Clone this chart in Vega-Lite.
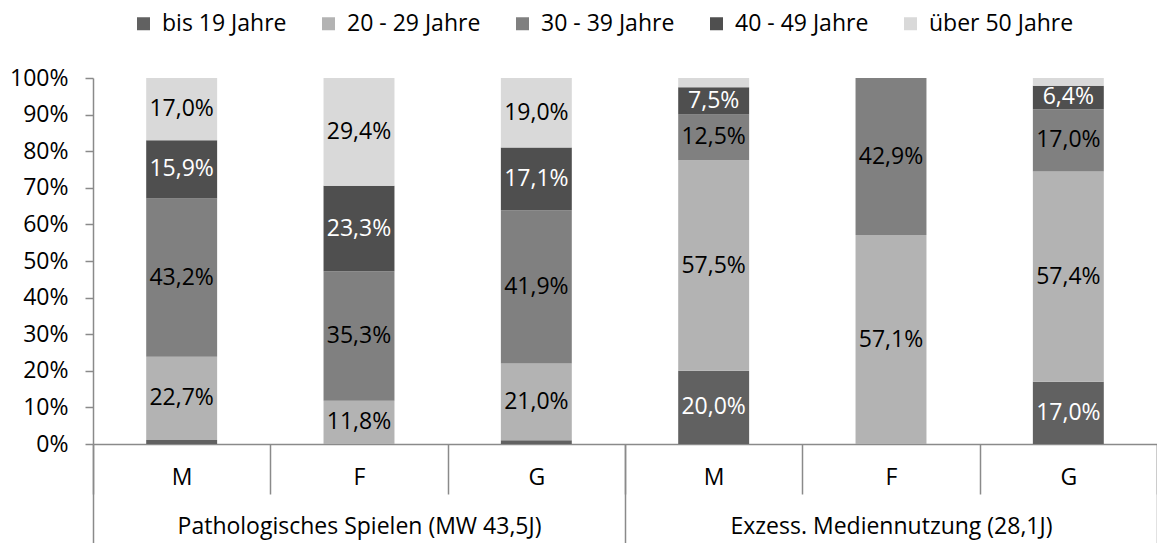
{
  "$schema": "https://vega.github.io/schema/vega-lite/v6.json",
  "width": 1064,
  "height": 366,
  "autosize": {"type": "none"},
  "padding": {"left": 93, "top": 78, "right": 0, "bottom": 99},
  "config": {
    "view": {"stroke": null},
    "font": "Open Sans",
    "locale": {"number": {"decimal": ",", "thousands": ".", "grouping": [3], "currency": ["", " €"]}},
    "axis": {"grid": false, "domainColor": "#8a8a8a", "tickColor": "#8a8a8a", "labelColor": "#000000", "labelFont": "Open Sans", "labelOverlap": false},
    "legend": {
      "orient": "none", "legendX": 39, "legendY": -66, "direction": "horizontal",
      "symbolType": "square", "symbolSize": 169, "symbolStrokeWidth": 0,
      "labelFontSize": 23, "labelColor": "#000000", "labelFont": "Open Sans",
      "columnPadding": 30, "labelOffset": 7
    }
  },
  "layer": [
    {
      "data": {"values": [
        {"id": "P-M", "age": "bis 19 Jahre", "k": 0, "v": 0.011},
        {"id": "P-M", "age": "20 - 29 Jahre", "k": 1, "v": 0.227},
        {"id": "P-M", "age": "30 - 39 Jahre", "k": 2, "v": 0.432},
        {"id": "P-M", "age": "40 - 49 Jahre", "k": 3, "v": 0.159},
        {"id": "P-M", "age": "über 50 Jahre", "k": 4, "v": 0.170},
        {"id": "P-F", "age": "20 - 29 Jahre", "k": 1, "v": 0.118},
        {"id": "P-F", "age": "30 - 39 Jahre", "k": 2, "v": 0.353},
        {"id": "P-F", "age": "40 - 49 Jahre", "k": 3, "v": 0.233},
        {"id": "P-F", "age": "über 50 Jahre", "k": 4, "v": 0.294},
        {"id": "P-G", "age": "bis 19 Jahre", "k": 0, "v": 0.010},
        {"id": "P-G", "age": "20 - 29 Jahre", "k": 1, "v": 0.210},
        {"id": "P-G", "age": "30 - 39 Jahre", "k": 2, "v": 0.419},
        {"id": "P-G", "age": "40 - 49 Jahre", "k": 3, "v": 0.171},
        {"id": "P-G", "age": "über 50 Jahre", "k": 4, "v": 0.190},
        {"id": "E-M", "age": "bis 19 Jahre", "k": 0, "v": 0.200},
        {"id": "E-M", "age": "20 - 29 Jahre", "k": 1, "v": 0.575},
        {"id": "E-M", "age": "30 - 39 Jahre", "k": 2, "v": 0.125},
        {"id": "E-M", "age": "40 - 49 Jahre", "k": 3, "v": 0.075},
        {"id": "E-M", "age": "über 50 Jahre", "k": 4, "v": 0.025},
        {"id": "E-F", "age": "20 - 29 Jahre", "k": 1, "v": 0.571},
        {"id": "E-F", "age": "30 - 39 Jahre", "k": 2, "v": 0.429},
        {"id": "E-G", "age": "bis 19 Jahre", "k": 0, "v": 0.170},
        {"id": "E-G", "age": "20 - 29 Jahre", "k": 1, "v": 0.574},
        {"id": "E-G", "age": "30 - 39 Jahre", "k": 2, "v": 0.170},
        {"id": "E-G", "age": "40 - 49 Jahre", "k": 3, "v": 0.064},
        {"id": "E-G", "age": "über 50 Jahre", "k": 4, "v": 0.021}
      ]},
      "transform": [
        {"stack": "v", "groupby": ["id"], "sort": [{"field": "k", "order": "ascending"}], "offset": "normalize", "as": ["y0", "y1"]},
        {"calculate": "(datum.y0 + datum.y1) / 2", "as": "ym"}
      ],
      "layer": [
        {
          "mark": {"type": "bar", "width": {"band": 0.4}},
          "encoding": {
            "x": {
              "field": "id", "type": "nominal",
              "sort": ["P-M", "P-F", "P-G", "E-M", "E-F", "E-G"],
              "scale": {"paddingInner": 0, "paddingOuter": 0},
              "axis": {
                "title": null, "orient": "bottom", "labelExpr": "substring(datum.label, 2)",
                "tickBand": "extent", "tickSize": 50, "labelPadding": -17, "labelBaseline": "middle",
                "labelAngle": 0, "labelFontSize": 23, "domainWidth": 1.5, "tickWidth": 1.5
              }
            },
            "y": {
              "field": "y0", "type": "quantitative", "scale": {"domain": [0, 1], "nice": false},
              "axis": {"title": null, "format": ".0%", "values": [0, 0.1, 0.2, 0.3, 0.4, 0.5, 0.6, 0.7, 0.8, 0.9, 1],
                "labelOverlap": false,
                "tickSize": 8, "labelPadding": 17, "labelFontSize": 23, "domainWidth": 1.5, "tickWidth": 1.5}
            },
            "y2": {"field": "y1"},
            "color": {
              "field": "age", "type": "nominal", "title": null,
              "scale": {
                "domain": ["bis 19 Jahre", "20 - 29 Jahre", "30 - 39 Jahre", "40 - 49 Jahre", "über 50 Jahre"],
                "range": ["#616161", "#b3b3b3", "#808080", "#4f4f4f", "#d9d9d9"]
              }
            }
          }
        },
        {
          "transform": [{"filter": "datum.v >= 0.05"}],
          "mark": {"type": "text", "fontSize": 23, "font": "Open Sans"},
          "encoding": {
            "x": {"field": "id", "type": "nominal", "sort": ["P-M", "P-F", "P-G", "E-M", "E-F", "E-G"]},
            "y": {"field": "ym", "type": "quantitative",
              "axis": {"title": null, "format": ".0%", "values": [0, 0.1, 0.2, 0.3, 0.4, 0.5, 0.6, 0.7, 0.8, 0.9, 1],
                "labelOverlap": false,
                "tickSize": 8, "labelPadding": 17, "labelFontSize": 23, "domainWidth": 1.5, "tickWidth": 1.5}},
            "text": {"field": "v", "type": "quantitative", "format": ".1%"},
            "color": {"condition": {"test": "datum.k == 0 || datum.k == 3", "value": "#ffffff"}, "value": "#000000"}
          }
        }
      ]
    },
    {
      "data": {"values": [
        {"g": "Pathologisches Spielen (MW 43,5J)"},
        {"g": "Exzess. Mediennutzung (28,1J)"}
      ]},
      "mark": {"type": "rule", "opacity": 0},
      "encoding": {
        "x": {
          "field": "g", "type": "nominal", "sort": null,
          "axis": {
            "title": null, "orient": "bottom", "domain": false, "tickBand": "extent",
            "tickSize": 99, "labelPadding": -17, "labelBaseline": "middle", "labelAngle": 0,
            "labelFontSize": 23, "labelLimit": 0, "tickWidth": 1.5
          }
        }
      }
    }
  ],
  "resolve": {"scale": {"x": "independent"}}
}
